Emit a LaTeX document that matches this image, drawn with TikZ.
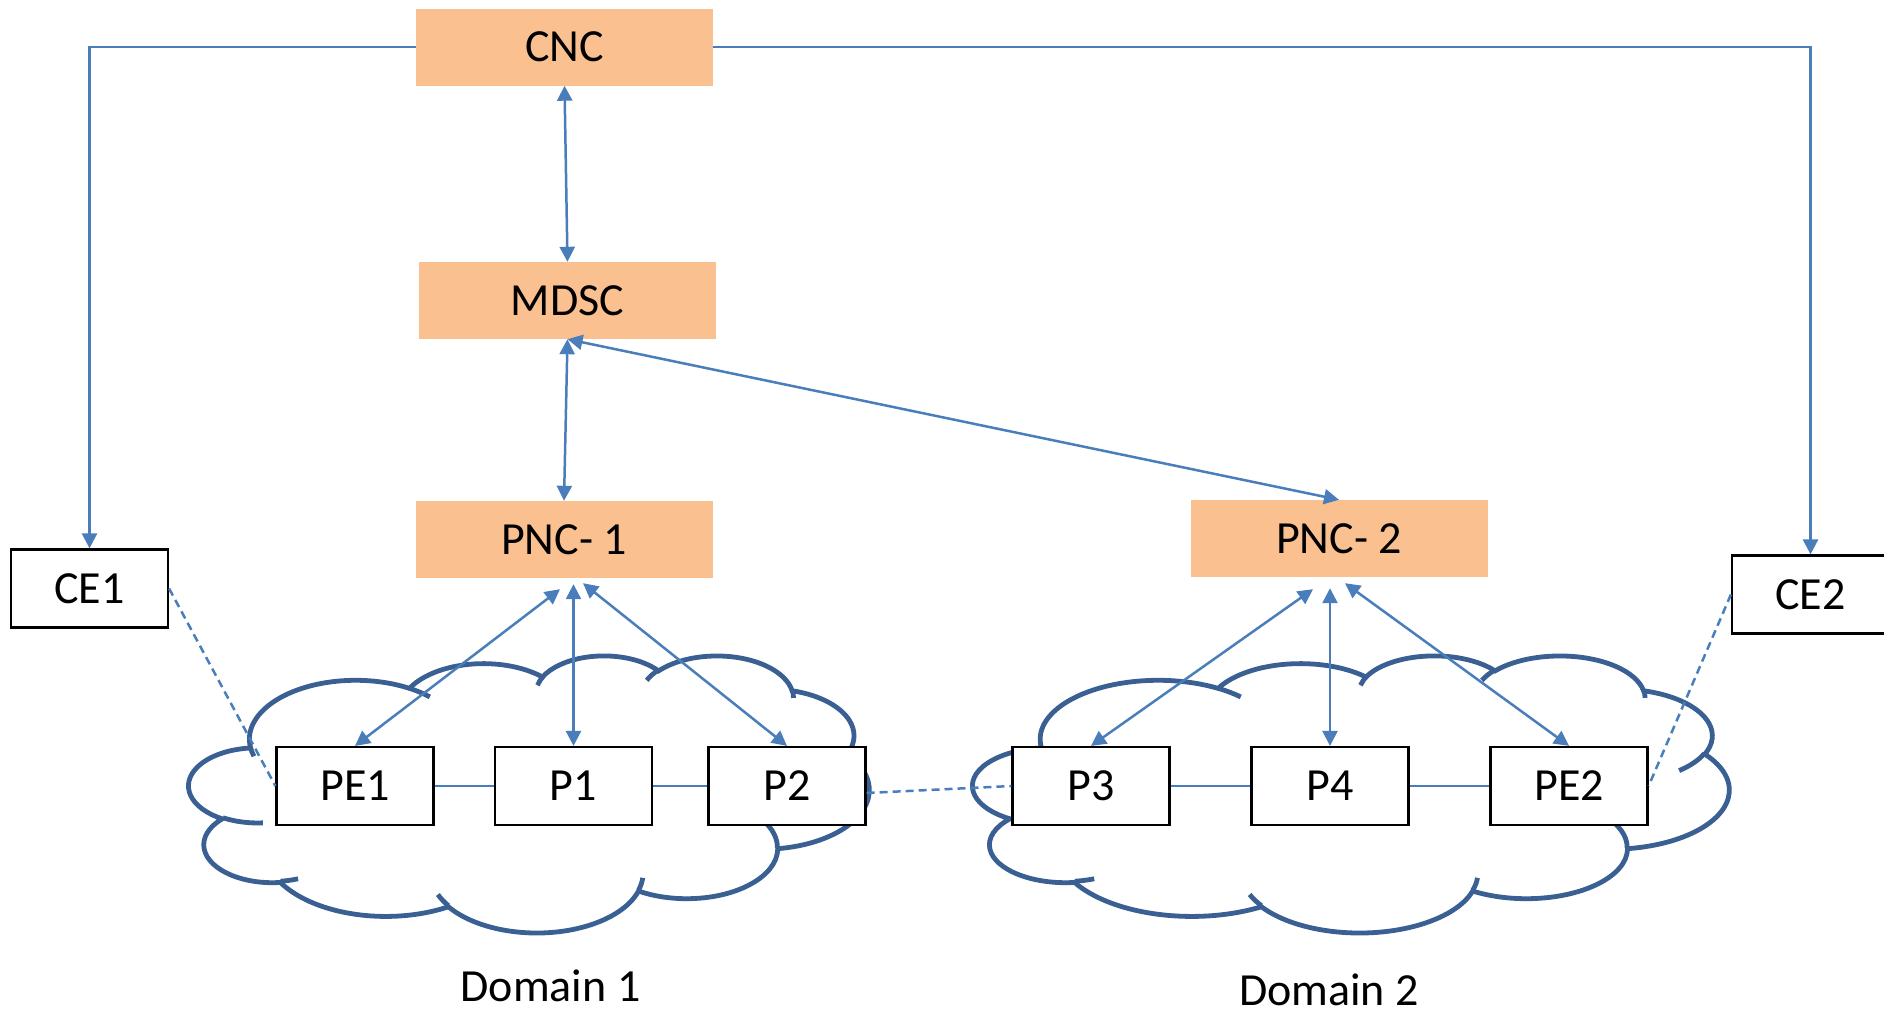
\documentclass[tikz,border=0pt]{standalone}
\usepackage{fontspec}
\setmainfont{Carlito}
\usetikzlibrary{arrows.meta,calc}

\definecolor{ctrlfill}{HTML}{FAC090}
\definecolor{linkblue}{HTML}{4A7EBB}
\definecolor{cloudblue}{HTML}{3A6093}

% point on an ellipse given by its visual angle -> parametric angle
\pgfmathdeclarefunction{vpar}{3}{\pgfmathparse{atan2(#1*sin(#3),#2*cos(#3))}}

\tikzset{
  ctrl/.style={fill=ctrlfill, minimum width=297pt, minimum height=77pt,
    inner sep=0pt, font=\fontsize{46}{50}\selectfont},
  dev/.style={draw=black, line width=2.2pt, fill=white, minimum width=157pt,
    minimum height=78pt, inner sep=0pt, font=\fontsize{46}{50}\selectfont},
  caption/.style={inner sep=0pt, font=\fontsize{46}{50}\selectfont},
  link/.style={draw=linkblue, line width=2.5pt},
  tip/.style={-{Triangle[length=15pt,width=15pt]}},
  twotip/.style={{Triangle[length=15pt,width=15pt]}-{Triangle[length=15pt,width=15pt]}},
  dashlink/.style={link, dash pattern=on 8pt off 5pt},
  cloudline/.style={draw=cloudblue, line width=4.8pt},
  lobe/.style args={#1/#2/#3/#4}{x radius=#1, y radius=#2,
    start angle={vpar(#1,#2,#3)},
    delta angle={mod(vpar(#1,#2,#3+#4)-vpar(#1,#2,#3)+720,360)}}
}

% cloud outline in a 432 x 432 frame (y pointing down)
\newcommand\netcloud[4]{%
  \begin{scope}[shift={(#1,#2)}, x={(#3pt,0pt)}, y={(0pt,-#4pt)}]
    \path[cloudline, fill=white] (39.00,143.70)
      \foreach \w/\h/\s/\d in {
        67.53/91.90/-190.4875/123.7805,
        53.33/72.67/-144.1024/89.9452,
        43.65/59.45/-145.8079/99.7230,
        48.57/65.95/-130.9861/117.2417,
        53.33/72.73/-78.7089/109.0269,
        67.75/92.20/-46.2673/130.2690,
        57.85/78.67/0.6250/114.0333,
        67.52/92.15/22.4516/115.1726,
        77.20/105.43/66.2426/75.7110,
        43.60/59.18/-274.9421/146.7356,
        43.45/59.45/-246.8285/152.5189}
      { arc[lobe=\w/\h/\s/\d] } -- cycle;
    \path[cloudline]
      \foreach \x/\y/\w/\h/\s/\d in {
        46.93/261.77/43.45/59.45/86.7420/26.4295,
        69.28/348.99/43.60/59.18/73.6105/11.4475,
        164.78/390.90/67.52/92.15/137.6242/14.0811,
        288.27/347.51/67.52/92.15/6.4533/15.9984,
        341.29/229.54/57.85/78.67/-70.2924/70.9174,
        417.98/153.54/53.33/72.73/30.3180/27.7515,
        383.24/54.26/48.57/65.95/-13.7443/14.8589,
        290.78/39.52/48.57/65.95/-149.1815/18.1954,
        221.41/47.20/43.65/59.45/-163.4943/17.6864,
        140.00/51.92/67.53/91.90/-66.7070/12.3194,
        41.27/157.89/67.53/91.90/157.6544/11.8582}
      { (\x,\y) arc[lobe=\w/\h/\s/\d] };
  \end{scope}}

\begin{document}
\begin{tikzpicture}[x=1pt, y=-1pt]
  \useasboundingbox (0,0) rectangle (1884,1017);

  % the two network domains
  \netcloud{189}{655}{1.5741}{0.6412}
  \netcloud{973}{655}{1.7500}{0.6412}

  % controllers
  \node[ctrl] (cnc)  at (564.5,47)  {CNC};
  \node[ctrl] (mdsc) at (567.5,300.5) {MDSC};
  \node[ctrl] (pnc1) at (564,539.5) {PNC- 1};
  \node[ctrl] (pnc2) at (1339,538.5) {PNC- 2};

  % customer edges and provider routers
  \node[dev] (ce1) at (89.5,588.5) {CE1};
  \node[dev] (ce2) at (1810.5,594.5) {CE2};
  \node[dev] (pe1) at (355,786) {PE1};
  \node[dev] (p1)  at (573.5,786) {P1};
  \node[dev] (p2)  at (787,786) {P2};
  \node[dev] (p3)  at (1091,786) {P3};
  \node[dev] (p4)  at (1330,786) {P4};
  \node[dev] (pe2) at (1569,786) {PE2};

  \node[caption] (dom1) at (550.5,986) {Domain 1};
  \node[caption] (dom2) at (1329,990) {Domain 2};

  % arrow ends just below the domain controllers
  \coordinate (a1) at ($(pnc1.south)+(-4,11)$);
  \coordinate (a2) at ($(p1.north |- pnc1.south)+(0,6)$);
  \coordinate (a3) at ($(pnc1.south)+(19,5)$);
  \coordinate (b1) at ($(pnc2.south)+(-26,12)$);
  \coordinate (b2) at ($(p4.north |- pnc2.south)+(0,11)$);
  \coordinate (b3) at ($(pnc2.south)+(6,6)$);

  % control hierarchy
  \draw[link, tip] (cnc.west) -| (ce1.north);
  \draw[link, tip] (cnc.east) -| (ce2.north);
  \draw[link, twotip] (cnc.south) -- (mdsc.north);
  \draw[link, twotip] (mdsc.south) -- (pnc1.north);
  \draw[link, twotip] (mdsc.south) -- (pnc2.north);
  \draw[link, twotip] (a1) -- (pe1.north);
  \draw[link, twotip] (a2) -- (p1.north);
  \draw[link, twotip] (a3) -- (p2.north);
  \draw[link, twotip] (b1) -- (p3.north);
  \draw[link, twotip] (b2) -- (p4.north);
  \draw[link, twotip] (b3) -- (pe2.north);

  % data plane links
  \draw[link] (pe1) -- (p1);
  \draw[link] (p1) -- (p2);
  \draw[link] (p3) -- (p4);
  \draw[link] (p4) -- (pe2);
  \draw[dashlink] ($(p2.east)+(0,7)$) -- (p3.west);
  \draw[dashlink] (ce1.east) -- (pe1.west);
  \draw[dashlink] (ce2.west) -- (pe2.east);
\end{tikzpicture}
\end{document}
